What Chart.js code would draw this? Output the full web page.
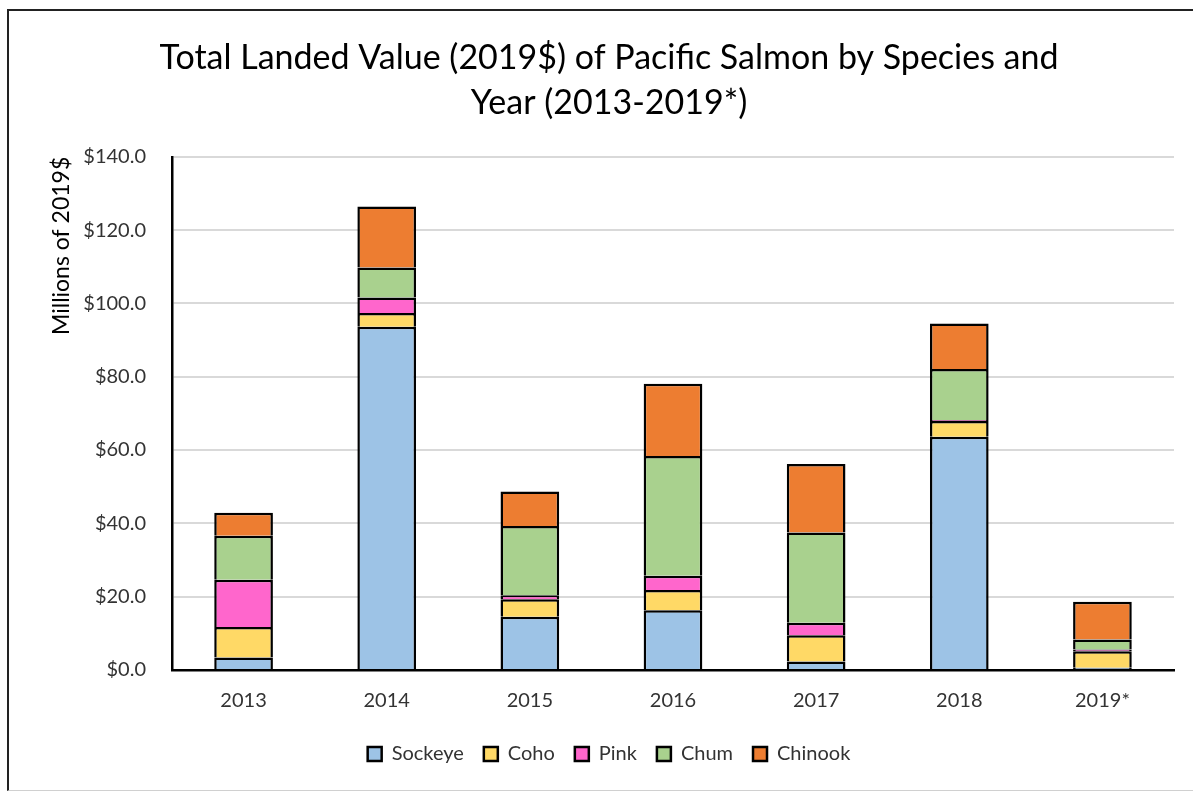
<!DOCTYPE html>
<html>
<head>
<meta charset="utf-8">
<script src="https://cdn.jsdelivr.net/npm/chart.js@4.4.1/dist/chart.umd.min.js"></script>
<style>
  html, body { margin: 0; padding: 0; background: #fff; overflow: hidden; }
  #wrap { position: absolute; left: 7px; top: 9px; width: 1200px; height: 782px; border-left: 2px solid #222; border-top: 2px solid #222; border-bottom: 1px solid #d0d0d0; box-sizing: border-box; }
  canvas { position: absolute; left: 0; top: 0; }
</style>
</head>
<body>
<div id="wrap"></div>
<canvas id="c" width="1193" height="792"></canvas>
<script>
const categories = ["2013", "2014", "2015", "2016", "2017", "2018", "2019*"];
const sockeye = [3.4, 93.6, 14.5, 16.3, 2.3, 63.6, 0.6];
const coho    = [8.3, 3.8, 4.8, 5.5, 7.2, 4.3, 4.5];
const pink    = [12.9, 4.2, 1.1, 3.9, 3.4, 0.3, 0.5];
const chum    = [12.0, 8.2, 18.9, 32.7, 24.6, 13.9, 2.7];
const chinook = [6.3, 16.6, 9.4, 19.7, 18.7, 12.4, 10.3];
const yTicks  = [0, 20, 40, 60, 80, 100, 120, 140];

const font = "Lato, Open Sans, sans-serif";
const mk = (label, data, color) => ({
  label, data, backgroundColor: color, borderColor: "#000", borderWidth: 2.5,
  categoryPercentage: 1.0, barPercentage: 0.41
});

new Chart(document.getElementById("c"), {
  type: "bar",
  data: {
    labels: categories,
    datasets: [
      mk("Sockeye", sockeye, "#9dc3e6"),
      mk("Coho", coho, "#ffd966"),
      mk("Pink", pink, "#ff66cc"),
      mk("Chum", chum, "#a9d18e"),
      mk("Chinook", chinook, "#ed7d31")
    ]
  },
  options: {
    responsive: false,
    animation: false,
    layout: { padding: { left: 44, right: 19, top: 36, bottom: 18 } },
    plugins: {
      title: {
        display: true,
        text: ["Total Landed Value (2019$) of Pacific Salmon by Species and", "Year (2013-2019*)"],
        color: "#000",
        font: { family: font, size: 34, weight: "normal", lineHeight: 1.32 },
        padding: { top: 0, bottom: 31 }
      },
      legend: {
        position: "bottom",
        labels: {
          color: "#333",
          font: { family: font, size: 20 },
          boxWidth: 14, boxHeight: 14, padding: 20
        }
      },
      tooltip: { enabled: false }
    },
    scales: {
      x: {
        stacked: true,
        grid: { display: false },
        border: { display: true, color: "#000", width: 2.5 },
        ticks: { color: "#333", font: { family: font, size: 20 }, padding: 11 }
      },
      y: {
        stacked: true,
        min: 0, max: 140,
        afterBuildTicks: (s) => { s.ticks = yTicks.map(v => ({ value: v })); },
        afterFit: (s) => { s.width = 128; },
        grid: { color: "#d9d9d9", lineWidth: 2, drawTicks: false },
        border: { display: true, color: "#000", width: 2.5 },
        ticks: {
          color: "#333", font: { family: font, size: 20 }, padding: 26,
          callback: (v) => "$" + Number(v).toFixed(1)
        },
        title: {
          display: true, text: "Millions of 2019$", color: "#000", align: "end",
          font: { family: font, size: 23 }, padding: { top: 4, bottom: 0 }
        }
      }
    }
  }
});
</script>
</body>
</html>
